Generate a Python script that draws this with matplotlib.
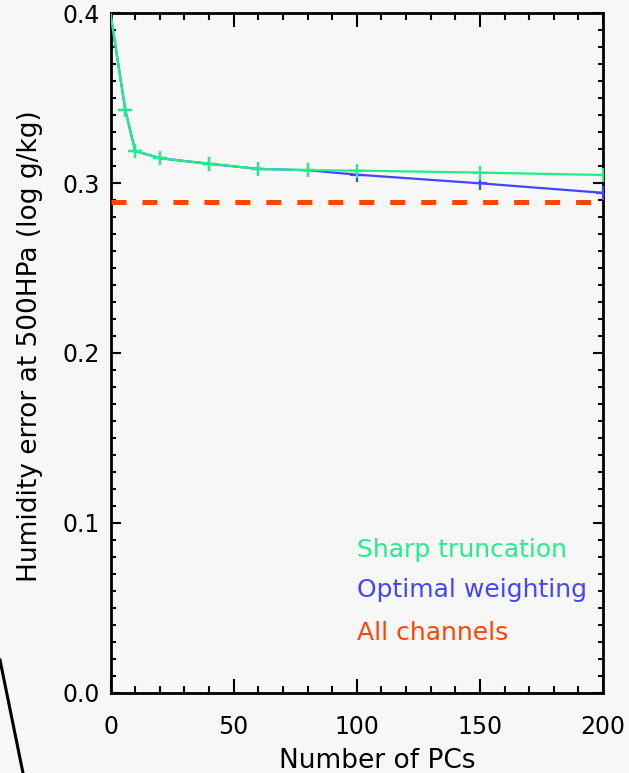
import numpy as np
import matplotlib
matplotlib.use('Agg')
import matplotlib.pyplot as plt
from matplotlib.lines import Line2D

# number of principal components used in the retrieval
n_pcs = [0, 6, 10, 20, 40, 60, 80, 100, 150, 200]
# humidity error at 500 hPa (log g/kg)
sharp = [0.400, 0.343, 0.319, 0.3147, 0.3114, 0.3084, 0.3076, 0.3074, 0.3062, 0.3048]
optimal = [0.400, 0.343, 0.319, 0.3147, 0.3114, 0.3084, 0.3076, 0.3050, 0.2999, 0.2943]
all_channels = 0.2887

labels = ['Sharp truncation', 'Optimal weighting', 'All channels']
x_ticks = [0, 50, 100, 150, 200]
y_ticks = [0.0, 0.1, 0.2, 0.3, 0.4]

bg = '#f7f7f7'
green = '#22ee88'
blue = '#4444ff'
red = '#ff4400'

plt.rcParams['font.family'] = ['DejaVu Sans']
plt.rcParams['lines.scale_dashes'] = False

fig = plt.figure(figsize=(6.29, 7.73), dpi=100, facecolor=bg)
ax = fig.add_axes([0.1757, 0.1039, 0.7830, 0.8789])
ax.set_facecolor(bg)

ax.plot([n_pcs[0], n_pcs[-1]], [all_channels, all_channels], color=red,
        lw=3.6, dashes=(10.8, 11.5), solid_capstyle='butt', zorder=3)
ax.plot(n_pcs, optimal, color=blue, lw=1.6, marker='+', ms=10, mew=1.6,
        markevery=list(range(1, len(n_pcs))), zorder=3)
ax.plot(n_pcs, sharp, color=green, lw=1.6, marker='+', ms=10, mew=1.6,
        markevery=list(range(1, len(n_pcs))), zorder=3)

ax.set_xlim(0, 200)
ax.set_ylim(0, 0.4)
ax.set_xticks(x_ticks)
ax.set_xticks(np.arange(0, 201, 10), minor=True)
ax.set_yticks(y_ticks)
ax.set_yticks(np.arange(0, 0.401, 0.01), minor=True)
ax.set_yticklabels(['%.1f' % v for v in y_ticks])

ax.tick_params(direction='in', top=True, right=True, which='both',
               width=1.5, color='black')
ax.tick_params(axis='x', which='major', length=9.8, pad=16, labelsize=17)
ax.tick_params(axis='x', which='minor', length=4.9)
ax.tick_params(axis='y', which='major', length=7.2, pad=7.5, labelsize=17)
ax.tick_params(axis='y', which='minor', length=3.6)
for s in ax.spines.values():
    s.set_linewidth(2.0)

ax.set_xlabel('Number of PCs', fontsize=19)
ax.xaxis.set_label_coords(0.542, -0.082)
ax.set_ylabel('Humidity error at 500HPa (log g/kg)', fontsize=19)
ax.yaxis.set_label_coords(-0.137, 0.51)

for lab, c, yy in zip(labels, [green, blue, red], [0.1997, 0.1409, 0.0776]):
    ax.text(0.5, yy, lab, color=c, fontsize=18, transform=ax.transAxes,
            ha='left', va='baseline')

# stray edge of the scanned page
fig.add_artist(Line2D([0, 23 / 629], [1 - 660 / 773, 0], color='black',
                      lw=2.2, transform=fig.transFigure))

fig.savefig('out.png', dpi=100, facecolor=bg)
